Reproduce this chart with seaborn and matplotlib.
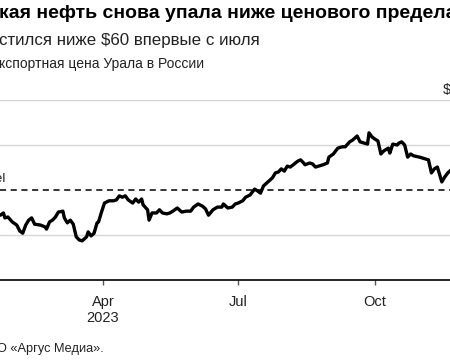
import pandas as pd
import numpy as np
import matplotlib
matplotlib.use("Agg")
import matplotlib.pyplot as plt
import matplotlib.transforms as mtransforms
import seaborn as sns

# Urals export price (USD/barrel)
dates = [
    "01-22", "01-24", "01-25", "01-27", "01-30", "02-02", "02-04", "02-06", "02-08", "02-10",
    "02-12", "02-14", "02-18", "02-21", "02-22", "02-24", "02-26", "02-28", "03-02", "03-05",
    "03-06", "03-08", "03-10", "03-12", "03-14", "03-16", "03-18", "03-21", "03-22", "03-24",
    "03-26", "03-28", "03-29", "03-31", "04-02", "04-05", "04-08", "04-10", "04-12", "04-14",
    "04-16", "04-18", "04-21", "04-23", "04-25", "04-27", "04-28", "05-01", "05-02", "05-04",
    "05-07", "05-09", "05-11", "05-14", "05-16", "05-18", "05-21", "05-24", "05-27", "05-30",
    "06-01", "06-04", "06-07", "06-09", "06-11", "06-14", "06-17", "06-20", "06-21", "06-24",
    "06-27", "06-29", "07-01", "07-04", "07-06", "07-09", "07-12", "07-14", "07-16", "07-18",
    "07-21", "07-24", "07-26", "07-28", "07-30", "08-01", "08-03", "08-05", "08-07", "08-10",
    "08-12", "08-14", "08-15", "08-18", "08-20", "08-22", "08-24", "08-27", "08-30", "08-31",
    "09-03", "09-06", "09-09", "09-11", "09-14", "09-16", "09-19", "09-21", "09-24", "09-26",
    "09-27", "09-29", "10-01", "10-03", "10-05", "10-07", "10-10", "10-11", "10-13", "10-16",
    "10-17", "10-19", "10-21", "10-23", "10-25", "10-27", "10-31", "11-04", "11-06", "11-08",
    "11-10", "11-12", "11-15", "11-17", "11-19", "11-21",
]
prices = [
    54.4, 54.9, 53.8, 54.0, 52.9, 52.2, 50.9, 50.4, 52.2, 53.3,
    53.8, 52.4, 52.2, 51.8, 51.3, 52.9, 53.3, 54.0, 55.1, 55.3,
    53.8, 52.7, 53.3, 52.4, 49.6, 48.9, 48.7, 49.6, 50.7, 49.8,
    50.4, 52.7, 52.9, 55.1, 57.1, 57.6, 57.6, 57.8, 58.7, 58.4,
    58.7, 57.8, 57.1, 58.0, 57.3, 58.0, 56.7, 55.6, 53.3, 54.9,
    54.9, 55.6, 54.9, 54.7, 54.9, 55.3, 56.0, 55.1, 55.3, 55.3,
    56.2, 56.9, 56.4, 55.8, 54.4, 55.6, 56.2, 56.2, 56.9, 56.0,
    56.2, 56.9, 57.1, 57.6, 58.4, 58.9, 60.2, 59.8, 59.3, 60.9,
    61.8, 62.7, 63.8, 64.0, 64.7, 64.2, 65.3, 65.1, 65.6, 66.4,
    66.7, 66.0, 65.6, 66.0, 65.8, 65.1, 65.3, 65.6, 66.0, 67.3,
    68.0, 69.3, 69.6, 69.6, 70.7, 71.1, 72.0, 70.7, 70.4, 70.2,
    72.7, 71.8, 71.3, 70.9, 68.0, 68.7, 69.3, 68.2, 70.2, 70.0,
    70.4, 70.7, 70.0, 67.3, 68.0, 67.6, 67.3, 66.9, 66.7, 63.8,
    64.7, 65.1, 61.8, 62.9, 63.8, 64.4,
]
price_cap = 60
grid_levels = [50, 70, 80]
top_label = "$80"
x_ticks = ["2023-04-01", "2023-07-01", "2023-10-01"]
x_tick_labels = ["Apr\n2023", "Jul", "Oct"]

df = pd.DataFrame({"date": pd.to_datetime(["2023-" + d for d in dates]), "price": prices})

sns.set_theme(style="white")
plt.rcParams["font.family"] = ["Liberation Sans", "DejaVu Sans"]

W, H = 450, 361
fig = plt.figure(figsize=(W / 100, H / 100), dpi=100)
# axes spans the whole width: the reference is a crop of a wider chart
ax = fig.add_axes([0, (H - 280) / H, 1, 180 / H])

for v in grid_levels:
    ax.axhline(v, color="#d6d6d6", lw=1.0, zorder=1)
ax.axhline(price_cap, color="black", lw=1.1, ls=(0, (4, 3)), zorder=2)

sns.lineplot(data=df, x="date", y="price", ax=ax, color="black", linewidth=2.4, zorder=3)

start = pd.Timestamp("2023-01-01")
ax.set_xlim(start + pd.Timedelta(days=20.7), start + pd.Timedelta(days=323.5))
ax.set_ylim(40, 80)

ax.set_xticks(pd.to_datetime(x_ticks))
ax.set_xticklabels(x_tick_labels, fontsize=10.5, color="#222222", linespacing=1.25)
ax.set_yticks([])
ax.set_xlabel("")
ax.set_ylabel("")
ax.tick_params(axis="x", bottom=True, direction="out", length=3.5, width=1, color="#555555", pad=7)
for s in ["top", "right", "left"]:
    ax.spines[s].set_visible(False)
ax.spines["bottom"].set_color("black")
ax.spines["bottom"].set_linewidth(1.2)

# right-hand value label of the top gridline (only its "$" is inside the crop)
trans = mtransforms.blended_transform_factory(fig.transFigure, ax.transData)
ax.text(443 / W, 80 + 1.3, top_label, transform=trans, ha="left", va="baseline",
        fontsize=10.5, color="#222222", clip_on=False)

ax.text(6 / W, price_cap + 1.8, "$60/barrel", transform=trans, ha="right", va="baseline",
        fontsize=9.5, color="#222222")

fig.text(-1 / W, (H - 18.5) / H, "кая нефть снова упала ниже ценового предела",
         fontsize=14, fontweight="bold", color="black", va="baseline")
fig.text(-1 / W, (H - 44.5) / H, "стился ниже $60 впервые с июля",
         fontsize=12.2, color="#222222", va="baseline")
fig.text(-1 / W, (H - 68) / H, "кспортная цена Урала в России",
         fontsize=10, color="#222222", va="baseline")
fig.text(-3 / W, (H - 352) / H, "О «Аргус Медиа».",
         fontsize=9.2, color="#222222", va="baseline")

fig.savefig("out.png", dpi=100)
